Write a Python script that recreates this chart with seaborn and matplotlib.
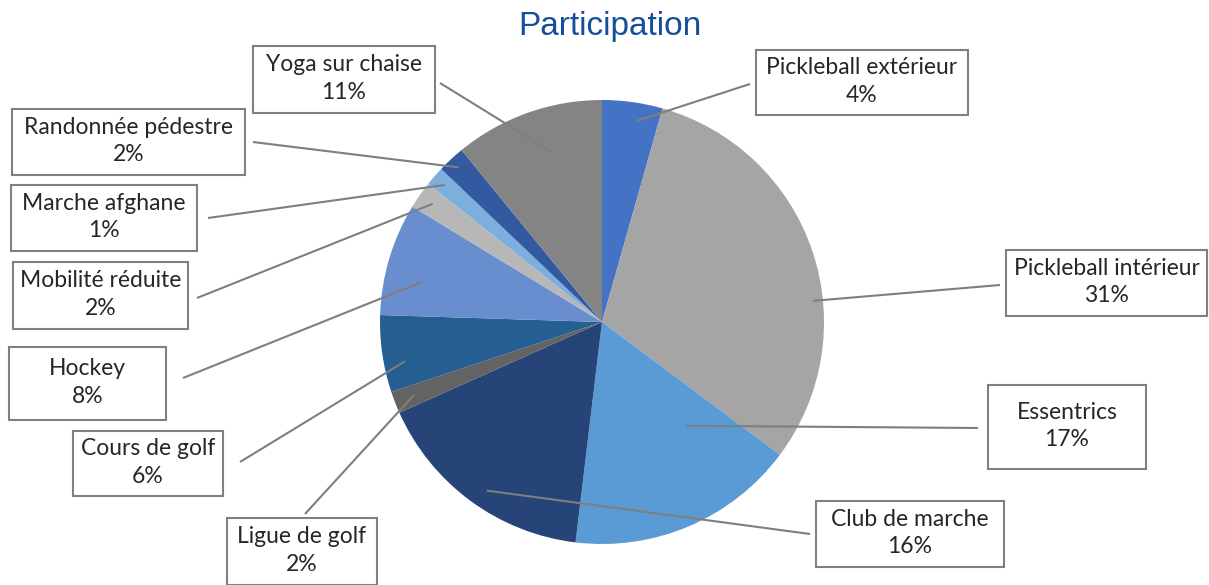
import numpy as np
import matplotlib
matplotlib.use("Agg")
import matplotlib.pyplot as plt
from matplotlib.patches import Rectangle
import seaborn as sns

# ---- data ----
categories = ["Pickleball extérieur", "Pickleball intérieur", "Essentrics", "Club de marche",
              "Ligue de golf", "Cours de golf", "Hockey", "Mobilité réduite",
              "Marche afghane", "Randonnée pédestre", "Yoga sur chaise"]
values = [4.4, 30.8, 16.7, 16.4, 1.6, 5.6, 8.2, 2.0, 1.4, 2.0, 10.9]
colors = ["#4472C4", "#A5A5A5", "#5B9BD5", "#264478", "#636363", "#255E91",
          "#698ED0", "#B7B7B7", "#7CAFDD", "#335AA1", "#848484"]
title = "Participation"

# ---- layout (pixel boxes: left, top, right, bottom; leader geometry) ----
W, H = 1209, 585
label_box = [(756, 50, 968, 115), (1006, 250, 1207, 316), (988, 385, 1146, 469),
             (816, 501, 1004, 567), (227, 518, 377, 585), (73, 431, 223, 496),
             (9, 347, 166, 420), (13, 262, 188, 329), (11, 185, 197, 251),
             (12, 109, 245, 175), (253, 46, 435, 113)]
leader_end = [(750, 84), (1000, 285), (978, 428), (810, 534), (305, 514), (240, 462),
              (183, 378), (197, 298), (208, 218), (253, 142), (440, 83)]
leader_frac = [0.92, 0.955, 0.60, 0.92, 0.91, 0.905, 0.83, 0.93, 0.94, 0.95, 0.79]
leader_dang = [1.9, 13.0, -15.6, -2.0, 0.0, -3.0, -4.0, 0.0, 0.0, 0.0, 3.7]

sns.set_theme(style="white")
plt.rcParams['font.family'] = ['Lato', 'DejaVu Sans']

fig = plt.figure(figsize=(W / 100, H / 100), dpi=100)
ax = fig.add_axes([0, 0, 1, 1])

cx, cy, R = 602, H - 322, 222
ax.pie(values, colors=colors, startangle=90, counterclock=False,
       center=(cx, cy), radius=R, wedgeprops=dict(linewidth=0), frame=True)
ax.set_xlim(0, W)
ax.set_ylim(0, H)
ax.set_aspect('equal')
ax.axis('off')

total = float(sum(values))
cum = np.cumsum([0] + values[:-1]) / total
fr = np.array(values) / total
for i, name in enumerate(categories):
    mid_cw = 360 * (cum[i] + fr[i] / 2) + leader_dang[i]
    theta = np.deg2rad(90 - mid_cw)
    sx = cx + leader_frac[i] * R * np.cos(theta)
    sy = cy + leader_frac[i] * R * np.sin(theta)
    ex, ey = leader_end[i]
    ax.plot([sx, ex], [sy, H - ey], color="#7F7F7F", lw=1.5, solid_capstyle='butt', zorder=3)
    l, t, r, b = label_box[i]
    ax.add_patch(Rectangle((l, H - b), r - l, b - t, facecolor='white', edgecolor='#808080',
                           lw=1.5, zorder=4, clip_on=False))
    pct = int(round(fr[i] * 100))
    ax.text((l + r) / 2, H - (t + b) / 2 + 1, f"{name}\n{pct}%", ha='center', va='center',
            fontsize=16.5, color="#262626", linespacing=1.4, zorder=5)

ax.text(W / 2 + 5, H - 27, title, ha='center', va='center', fontsize=24,
        color="#134F9A", family=['Liberation Sans', 'DejaVu Sans'])

fig.savefig("out.png", dpi=100)
